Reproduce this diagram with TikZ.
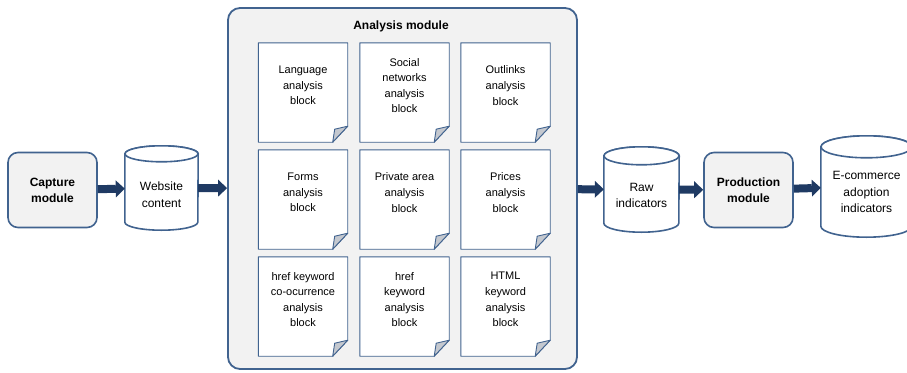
\documentclass[tikz,border=0pt]{standalone}
\usepackage{fontspec}
\setmainfont{Liberation Sans}
\usetikzlibrary{arrows.meta}
\definecolor{edgeblue}{HTML}{41638F}
\definecolor{arrowblue}{HTML}{1F3A63}
\definecolor{panelgray}{HTML}{F2F2F2}
\definecolor{foldgray}{HTML}{C4C8CF}
\begin{document}
\begin{tikzpicture}[x=1pt,y=-1pt,
    module/.style={draw=edgeblue,line width=1.6pt,fill=panelgray,rounded corners=10pt,
      align=center,font=\fontsize{12}{16}\selectfont\bfseries,minimum width=89pt,minimum height=75pt},
    storebox/.style={inner sep=0pt},
    storeline/.style={draw=edgeblue,line width=1.6pt,fill=white},
    storetext/.style={align=center,font=\fontsize{12}{16.5}\selectfont},
    page/.style={minimum width=89pt,minimum height=99pt,inner sep=0pt},
    pagetext/.style={align=center,font=\fontsize{11}{15.6}\selectfont},
    flow/.style={draw=arrowblue,line width=8pt,-{Triangle[length=9pt,width=17pt,line width=0pt]}}]
  \useasboundingbox (0,0) rectangle (907,372);
  \node[module] (cap) at (52.5,190) {Capture\\module};
  \node[draw=edgeblue,line width=1.8pt,fill=panelgray,rounded corners=12pt,
    minimum width=349pt,minimum height=361pt] (ana) at (402.5,188.5) {};
  \node[font=\fontsize{12}{14}\selectfont\bfseries] (anatitle) at (401,26) {Analysis module};
  \node[module] (prod) at (748.5,190) {Production\\module};
  % data stores
  \foreach \n/\x/\y/\w/\h/\r/\s/\t in {
      web/161.5/188/73/84/8/6.5/{Website\\content},
      raw/641.5/189.5/75/85/9/6/{Raw\\indicators},
      ecom/866.5/186.5/91/101/11/5.5/{E-commerce\\adoption\\indicators}}{
    \node[storebox,minimum width=\w*1pt,minimum height=\h*1pt] (\n) at (\x,\y) {};
    \draw[storeline] ([yshift=-\r pt]\n.north west) -- ([yshift=\r pt]\n.south west)
      arc[start angle=180,end angle=360,x radius=\w*0.5pt,y radius=\r*1pt]
      -- ([yshift=-\r pt]\n.north east)
      arc[start angle=0,end angle=180,x radius=\w*0.5pt,y radius=\r*1pt] -- cycle;
    \draw[storeline] ([yshift=-\r pt]\n.north) ellipse[x radius=\w*0.5pt,y radius=\r*1pt];
    \node[storetext] (\n txt) at ([yshift=-\s pt]\n.center) {\t};
  }
  % analysis blocks
  \foreach \n/\x/\y/\t in {
      lang/303/92.5/{Language\\analysis\\block},
      soc/404.5/92.5/{Social\\networks\\analysis\\block},
      outl/505.5/92.5/{Outlinks\\analysis\\block},
      form/303/199.5/{Forms\\analysis\\block},
      priv/404.5/199.5/{Private area\\analysis\\block},
      price/505.5/199.5/{Prices\\analysis\\block},
      hrefco/303/306.5/{href keyword\\co-ocurrence\\analysis\\block},
      hrefkw/404.5/306.5/{href\\keyword\\analysis\\block},
      html/505.5/306.5/{HTML\\keyword\\analysis\\block}}{
    \node[page] (\n) at (\x,\y) {};
    \draw[draw=edgeblue,line width=0.9pt,fill=white,line join=round]
      (\n.north west) -- (\n.north east) -- ([yshift=16pt]\n.south east)
      -- ([xshift=-15pt]\n.south east) -- (\n.south west) -- cycle;
    \draw[draw=edgeblue,line width=0.9pt,fill=foldgray,line join=round]
      ([yshift=16pt]\n.south east) -- ([xshift=-13pt,yshift=13pt]\n.south east)
      -- ([xshift=-15pt]\n.south east) -- cycle;
    \node[pagetext] (\n txt) at ([yshift=7pt]\n.center) {\t};
  }
  \begin{scope}[flow]
    \draw (cap) to (web);
    \draw (web) to (ana);
    \draw (ana) to (raw);
    \draw (raw) to (prod);
    \draw (prod) to (ecom);
  \end{scope}
\end{tikzpicture}
\end{document}
